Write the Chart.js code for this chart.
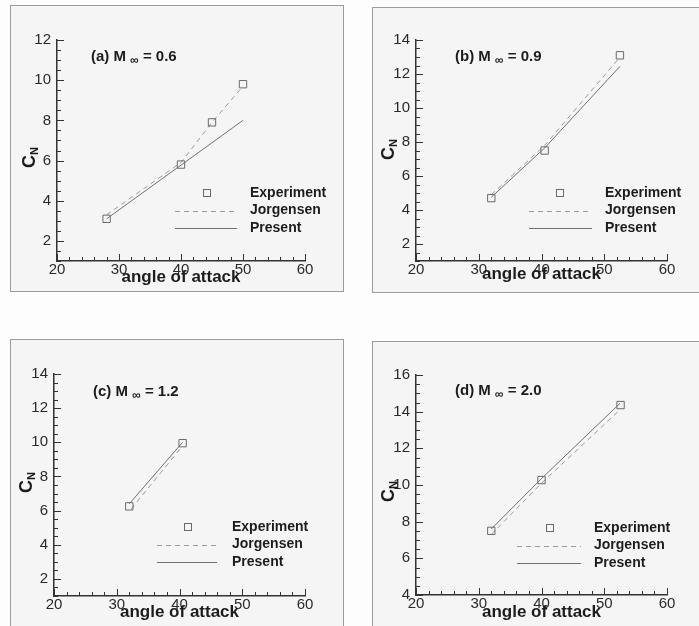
<!DOCTYPE html>
<html>
<head>
<meta charset="utf-8">
<script src="https://cdn.jsdelivr.net/npm/chart.js@4.4.1/dist/chart.umd.min.js"></script>
<style>
body { margin: 0; background: #fff; }
#page { position: relative; width: 699px; height: 626px; overflow: hidden; background: #fdfdfd; }
.frame { position: absolute; border: 1px solid #9c9c9c; background: #f5f5f5; box-sizing: border-box; }
canvas { position: absolute; }
</style>
</head>
<body>
<div id="page">
  <div class="frame" style="left:10px;top:5px;width:334px;height:287px"></div>
  <div class="frame" style="left:372px;top:7px;width:340px;height:286px"></div>
  <div class="frame" style="left:10px;top:339px;width:334px;height:300px"></div>
  <div class="frame" style="left:372px;top:341px;width:340px;height:300px"></div>
  <canvas id="cnA" width="334" height="287" style="left:10px;top:5px"></canvas>
  <canvas id="cnB" width="327" height="286" style="left:372px;top:7px"></canvas>
  <canvas id="cnC" width="334" height="287" style="left:10px;top:339px"></canvas>
  <canvas id="cnD" width="327" height="285" style="left:372px;top:341px"></canvas>
</div>
<script>
var xTicks = [20, 30, 40, 50, 60];
var yTicksA = [2, 4, 6, 8, 10, 12];
var yTicksB = [2, 4, 6, 8, 10, 12, 14];
var yTicksC = [2, 4, 6, 8, 10, 12, 14];
var yTicksD = [4, 6, 8, 10, 12, 14, 16];

var legendLabels = ['Experiment', 'Jorgensen', 'Present'];
var panelTags = ['(a)', '(b)', '(c)', '(d)'];
var machValues = ['0.6', '0.9', '1.2', '2.0'];

// (a) M = 0.6
var expAngleA = [28, 40, 45, 50];
var expCnA = [3.1, 5.8, 7.9, 9.8];
var jorAngleA = [28, 40, 45, 50];
var jorCnA = [3.3, 5.9, 7.9, 9.7];
var preAngleA = [28, 50];
var preCnA = [3.1, 8.0];

// (b) M = 0.9
var expAngleB = [32, 40.5, 52.5];
var expCnB = [4.7, 7.5, 13.1];
var jorAngleB = [32, 40.5, 52.3];
var jorCnB = [4.9, 7.8, 12.9];
var preAngleB = [32, 40.5, 52.5];
var preCnB = [4.75, 7.65, 12.45];

// (c) M = 1.2
var expAngleC = [32, 40.5];
var expCnC = [6.25, 9.95];
var jorAngleC = [32.3, 40.3];
var jorCnC = [6.1, 9.7];
var preAngleC = [32, 40.5];
var preCnC = [6.4, 10.0];

// (d) M = 2.0
var expAngleD = [32, 40, 52.6];
var expCnD = [7.5, 10.27, 14.36];
var jorAngleD = [32, 40, 52.5];
var jorCnD = [7.3, 10.1, 14.1];
var preAngleD = [32, 40, 52.5];
var preCnD = [7.6, 10.35, 14.45];

var FONT = '"Liberation Sans", Arial, sans-serif';
var INK = '#1c1c1c';

function pts(xs, ys) {
    var out = [];
    for (var i = 0; i < xs.length; i++) out.push({ x: xs[i], y: ys[i] });
    return out;
}

function isMult(v, step) {
    return Math.abs(v / step - Math.round(v / step)) < 1e-6;
}

// inward ticks, title, axis titles and the legend
var decorPlugin = {
    id: 'decor',
    afterDraw: function (chart, args, o) {
        var ctx = chart.ctx, a = chart.chartArea;
        var xs = chart.scales.x, ys = chart.scales.y;
        var v, p, len;
        ctx.save();
        ctx.strokeStyle = '#333';
        ctx.lineWidth = 1;
        ctx.beginPath();
        for (v = xs.min; v <= xs.max + 1e-6; v += 2) {
            p = Math.round(xs.getPixelForValue(v)) + 0.5;
            len = isMult(v, 10) ? 7 : 4;
            ctx.moveTo(p, a.bottom);
            ctx.lineTo(p, a.bottom - len);
        }
        for (v = ys.min; v <= ys.max + 1e-6; v += 0.5) {
            p = Math.round(ys.getPixelForValue(v)) + 0.5;
            len = isMult(v, 2) ? 7 : 4;
            ctx.moveTo(a.left, p);
            ctx.lineTo(a.left + len, p);
        }
        ctx.stroke();

        ctx.fillStyle = INK;
        ctx.textAlign = 'left';
        ctx.textBaseline = 'alphabetic';

        // panel title
        var tx = a.left + o.titleDx, ty = a.top + o.titleDy;
        ctx.font = 'bold 15px ' + FONT;
        var t1 = panelTags[o.idx] + ' M ';
        ctx.fillText(t1, tx, ty);
        tx += ctx.measureText(t1).width;
        ctx.font = 'bold 12px ' + FONT;
        ctx.fillText('\u221E', tx, ty + 3);
        tx += ctx.measureText('\u221E').width;
        ctx.font = 'bold 15px ' + FONT;
        ctx.fillText(' = ' + machValues[o.idx], tx, ty);

        // y title C_N
        ctx.save();
        ctx.translate(a.left - 22, a.top + o.yTitleDy);
        ctx.rotate(-Math.PI / 2);
        ctx.font = 'bold 18px ' + FONT;
        ctx.fillText('C', 0, 0);
        var cw = ctx.measureText('C').width;
        ctx.font = 'bold 11px ' + FONT;
        ctx.fillText('N', cw, 3);
        ctx.restore();

        // x title
        ctx.font = 'bold 17px ' + FONT;
        ctx.textAlign = 'center';
        ctx.fillText('angle of attack', (a.left + a.right) / 2, a.bottom + o.xTitleDy);

        // legend
        var rows = [a.top + 153, a.top + 170.5, a.top + 188];
        ctx.textAlign = 'left';
        ctx.textBaseline = 'middle';
        ctx.font = 'bold 14px ' + FONT;
        for (var i = 0; i < legendLabels.length; i++) {
            ctx.fillText(legendLabels[i], a.left + o.legText, rows[i]);
        }
        ctx.strokeStyle = '#6a6a6a';
        ctx.strokeRect(Math.round(a.left + o.legSq) - 3.5, Math.round(rows[0]) - 3.5, 7, 7);
        ctx.strokeStyle = '#9a9a9a';
        ctx.setLineDash([5, 4]);
        ctx.beginPath();
        ctx.moveTo(a.left + o.legLine[0], Math.round(rows[1]) + 0.5);
        ctx.lineTo(a.left + o.legLine[1], Math.round(rows[1]) + 0.5);
        ctx.stroke();
        ctx.setLineDash([]);
        ctx.strokeStyle = '#707070';
        ctx.beginPath();
        ctx.moveTo(a.left + o.legLine[0], Math.round(rows[2]) + 0.5);
        ctx.lineTo(a.left + o.legLine[1], Math.round(rows[2]) + 0.5);
        ctx.stroke();
        ctx.restore();
    }
};

var Y_AXIS_W = 30, X_AXIS_H = 20;

function makePanel(id, box, area, yMin, yMax, yTicks, exp, jor, pre, deco) {
    var ctxl = document.getElementById(id);
    var padding = {
        left: area[0] - box[0] - Y_AXIS_W,
        top: area[1] - box[1],
        right: box[0] + box[2] - area[2],
        bottom: box[1] + box[3] - area[3] - X_AXIS_H
    };
    return new Chart(ctxl, {
        type: 'scatter',
        data: {
            datasets: [
                {
                    label: legendLabels[1],
                    data: jor,
                    showLine: true,
                    borderColor: '#9a9a9a',
                    borderWidth: 1,
                    borderDash: [5, 4],
                    pointRadius: 0,
                    order: 3
                },
                {
                    label: legendLabels[2],
                    data: pre,
                    showLine: true,
                    borderColor: '#707070',
                    borderWidth: 1,
                    pointRadius: 0,
                    order: 2
                },
                {
                    label: legendLabels[0],
                    data: exp,
                    showLine: false,
                    pointStyle: 'rect',
                    pointRadius: 5.2,
                    borderColor: '#6a6a6a',
                    backgroundColor: 'rgba(0,0,0,0)',
                    borderWidth: 1,
                    order: 1
                }
            ]
        },
        options: {
            responsive: false,
            animation: false,
            devicePixelRatio: 1,
            layout: { padding: padding },
            plugins: {
                legend: { display: false },
                tooltip: { enabled: false },
                decor: deco
            },
            scales: {
                x: {
                    type: 'linear',
                    min: 20,
                    max: 60,
                    afterFit: function (s) { s.height = X_AXIS_H; },
                    afterBuildTicks: function (s) { s.ticks = xTicks.map(function (v) { return { value: v }; }); },
                    grid: { display: false, drawTicks: false },
                    border: { display: true, color: '#333', width: 1.5 },
                    ticks: { padding: 0, color: '#2a2a2a', font: { family: FONT, size: 15 } }
                },
                y: {
                    type: 'linear',
                    min: yMin,
                    max: yMax,
                    afterFit: function (s) { s.width = Y_AXIS_W; },
                    afterBuildTicks: function (s) { s.ticks = yTicks.map(function (v) { return { value: v }; }); },
                    grid: { display: false, drawTicks: false },
                    border: { display: true, color: '#333', width: 1.5 },
                    ticks: { padding: 6, color: '#2a2a2a', font: { family: FONT, size: 15 } }
                }
            }
        },
        plugins: [decorPlugin]
    });
}

makePanel('cnA', [10, 5, 334, 287], [57, 40, 305, 261], 1, 12, yTicksA,
    pts(expAngleA, expCnA), pts(jorAngleA, jorCnA), pts(preAngleA, preCnA),
    { idx: 0, titleDx: 34, titleDy: 21, yTitleDy: 128, xTitleDy: 21, legText: 193, legSq: 150, legLine: [118, 180] });

makePanel('cnB', [372, 7, 327, 286], [416, 40, 667, 261], 1, 14, yTicksB,
    pts(expAngleB, expCnB), pts(jorAngleB, jorCnB), pts(preAngleB, preCnB),
    { idx: 1, titleDx: 39, titleDy: 21, yTitleDy: 120, xTitleDy: 18, legText: 189, legSq: 144, legLine: [113, 176] });

makePanel('cnC', [10, 339, 334, 287], [54, 374, 305, 596], 1, 14, yTicksC,
    pts(expAngleC, expCnC), pts(jorAngleC, jorCnC), pts(preAngleC, preCnC),
    { idx: 2, titleDx: 39, titleDy: 22, yTitleDy: 119, xTitleDy: 21, legText: 178, legSq: 134, legLine: [103, 163] });

makePanel('cnD', [372, 341, 327, 285], [416, 375, 667, 595], 4, 16, yTicksD,
    pts(expAngleD, expCnD), pts(jorAngleD, jorCnD), pts(preAngleD, preCnD),
    { idx: 3, titleDx: 39, titleDy: 20, yTitleDy: 127, xTitleDy: 22, legText: 178, legSq: 134, legLine: [101, 165] });
</script>
</body>
</html>
